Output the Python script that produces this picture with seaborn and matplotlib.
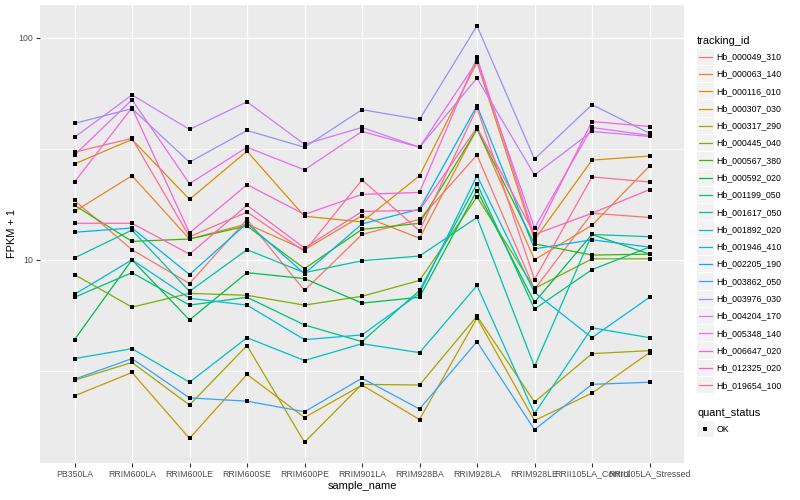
import numpy as np
import pandas as pd
import matplotlib
matplotlib.use("Agg")
import matplotlib.pyplot as plt
import seaborn as sns
from matplotlib.patches import Rectangle

# x categories
samples = ["PB350LA", "RRIM600LA", "RRIM600LE", "RRIM600SE", "RRIM600PE",
           "RRIM901LA", "RRIM928BA", "RRIM928LA", "RRIM928LE",
           "RRII105LA_Control", "RRII105LA_Stressed"]

tracking_ids = ["Hb_000049_310", "Hb_000063_140", "Hb_000116_010", "Hb_000307_030",
                "Hb_000317_290", "Hb_000445_040", "Hb_000567_380", "Hb_000592_020",
                "Hb_001199_050", "Hb_001617_050", "Hb_001892_020", "Hb_001946_410",
                "Hb_002205_190", "Hb_003862_050", "Hb_003976_030", "Hb_004204_170",
                "Hb_005348_140", "Hb_006647_020", "Hb_012325_020", "Hb_019654_100"]

# FPKM + 1 per gene, one value per sample
hb_000049_310 = [18.5, 11.1, 7.82, 15.2, 7.28, 13.0, 15.2, 29.6, 7.36, 16.2, 15.5]
hb_000063_140 = [16.5, 23.9, 12.4, 14.5, 11.1, 15.8, 12.5, 39.0, 10.0, 14.3, 26.4]
hb_000116_010 = [27.0, 34.8, 18.7, 30.8, 15.7, 14.8, 23.9, 77.4, 12.3, 28.1, 29.3]
hb_000307_030 = [2.44, 3.11, 1.57, 3.05, 1.95, 2.73, 1.91, 5.47, 1.89, 2.51, 3.82]
hb_000317_290 = [2.87, 3.45, 2.22, 4.11, 1.51, 2.75, 2.73, 5.58, 2.29, 3.78, 3.90]
hb_000445_040 = [8.58, 6.12, 7.06, 6.92, 6.25, 6.85, 8.07, 19.2, 7.43, 10.1, 10.1]
hb_000567_380 = [17.6, 12.1, 12.4, 14.2, 9.12, 13.7, 14.6, 38.6, 11.8, 10.5, 10.6]
hb_000592_020 = [4.37, 10.0, 5.36, 8.75, 8.23, 6.38, 6.78, 20.5, 6.44, 13.0, 10.6]
hb_001199_050 = [6.78, 8.75, 6.25, 6.78, 5.09, 4.28, 7.28, 22.0, 6.00, 9.03, 11.4]
hb_001617_050 = [10.2, 13.6, 7.21, 11.1, 8.75, 9.90, 10.4, 15.5, 3.31, 13.0, 12.7]
hb_001892_020 = [3.59, 3.98, 2.81, 4.46, 3.52, 4.19, 3.82, 7.66, 2.03, 4.94, 4.46]
hb_001946_410 = [6.99, 10.0, 6.71, 6.25, 4.37, 4.59, 7.06, 23.9, 7.13, 4.46, 6.78]
hb_002205_190 = [13.3, 13.9, 8.58, 14.6, 8.66, 14.5, 16.9, 49.4, 11.2, 12.3, 11.4]
hb_003862_050 = [2.90, 3.59, 2.39, 2.31, 2.07, 2.93, 2.13, 4.28, 1.72, 2.75, 2.81]
hb_003976_030 = [41.1, 47.9, 27.5, 38.2, 32.1, 47.4, 42.8, 113.0, 28.4, 49.9, 37.1]
hb_004204_170 = [35.6, 55.2, 38.6, 51.4, 33.1, 39.4, 32.1, 65.7, 24.1, 37.8, 35.9]
hb_005348_140 = [29.6, 52.5, 22.0, 32.1, 25.4, 37.8, 32.1, 78.2, 13.9, 39.4, 36.3]
hb_006647_020 = [22.4, 48.3, 13.2, 21.8, 16.0, 19.7, 20.1, 81.5, 12.8, 41.9, 39.8]
hb_012325_020 = [14.6, 14.6, 10.6, 17.6, 11.3, 16.5, 16.7, 39.4, 13.0, 16.2, 20.7]
hb_019654_100 = [30.5, 35.2, 12.7, 16.4, 10.9, 22.9, 13.5, 48.3, 8.15, 23.6, 22.4]

series = [hb_000049_310, hb_000063_140, hb_000116_010, hb_000307_030, hb_000317_290,
          hb_000445_040, hb_000567_380, hb_000592_020, hb_001199_050, hb_001617_050,
          hb_001892_020, hb_001946_410, hb_002205_190, hb_003862_050, hb_003976_030,
          hb_004204_170, hb_005348_140, hb_006647_020, hb_012325_020, hb_019654_100]

# ggplot default hue palette for 20 levels
palette = ["#F8766D", "#EA8331", "#D89000", "#C09B00", "#A3A500", "#7CAE00", "#39B600",
           "#00BB4E", "#00BF7D", "#00C1A3", "#00BFC4", "#00BAE0", "#00B0F6", "#35A2FF",
           "#9590FF", "#C77CFF", "#E76BF3", "#FA62DB", "#FF62BC", "#FF6C91"]

rows = []
for tid, vals in zip(tracking_ids, series):
    for s, v in zip(samples, vals):
        rows.append({"tracking_id": tid, "sample_name": s, "fpkm": v})
df = pd.DataFrame(rows)
df["sample_name"] = pd.Categorical(df["sample_name"], categories=samples, ordered=True)
df["xpos"] = df["sample_name"].cat.codes

plt.rcParams["font.family"] = ["Liberation Sans", "DejaVu Sans"]

fig = plt.figure(figsize=(8, 5), dpi=100)
ax = fig.add_axes([0.05, 0.074, 0.805, 0.916])
ax.set_facecolor("#EBEBEB")

sns.lineplot(data=df, x="xpos", y="fpkm", hue="tracking_id", hue_order=tracking_ids,
             palette=palette, estimator=None, sort=False, linewidth=0.9,
             legend=False, ax=ax, zorder=2)
sns.scatterplot(data=df, x="xpos", y="fpkm", color="black", marker="s", s=7,
                linewidth=0, legend=False, ax=ax, zorder=3)

ax.set_yscale("log")
lo, hi = np.log10(df["fpkm"].min()), np.log10(df["fpkm"].max())
pad = (hi - lo) * 0.05
ax.set_ylim(10 ** (lo - pad), 10 ** (hi + pad))
ax.set_xlim(-0.6, len(samples) - 0.4)

ax.set_yticks([10, 100])
ax.set_yticklabels(["10", "100"])
ax.set_yticks([10 ** 0.5, 10 ** 1.5], minor=True)
ax.yaxis.set_minor_formatter(matplotlib.ticker.NullFormatter())
ax.set_xticks(range(len(samples)))
ax.set_xticklabels(samples)

ax.grid(True, which="major", color="white", linewidth=1.0)
ax.grid(True, which="minor", axis="y", color="white", linewidth=0.5)
ax.set_axisbelow(True)
for sp in ax.spines.values():
    sp.set_visible(False)
ax.tick_params(axis="both", which="major", length=2.8, width=0.8, color="#333333",
               labelsize=6.3, labelcolor="#4D4D4D", pad=2)
ax.tick_params(axis="y", which="minor", length=0)

ax.set_xlabel("sample_name", fontsize=7.9, labelpad=2)
ax.set_ylabel("FPKM + 1", fontsize=7.9, labelpad=1)

# legend drawn by hand in pixel coordinates, ggplot style
lg = fig.add_axes([0, 0, 1, 1], facecolor="none")
lg.set_xlim(0, 800)
lg.set_ylim(500, 0)
lg.axis("off")

lg.text(697, 40.5, "tracking_id", fontsize=7.9, ha="left", va="center")
step = 17.29
for i, (tid, col) in enumerate(zip(tracking_ids, palette)):
    cy = 56.7 + i * step
    lg.add_patch(Rectangle((697, cy - step / 2 + 0.5), 16.5, step - 1,
                           facecolor="#F2F2F2", edgecolor="none"))
    lg.plot([698.5, 711.5], [cy, cy], color=col, linewidth=0.9)
    lg.text(716.7, cy, tid, fontsize=6.3, ha="left", va="center")

lg.text(697, 412.7, "quant_status", fontsize=7.9, ha="left", va="center")
lg.add_patch(Rectangle((697, 429.3 - step / 2 + 0.5), 16.5, step - 1,
                       facecolor="#F2F2F2", edgecolor="none"))
lg.scatter([705.2], [429.3], marker="s", s=7, color="black", linewidth=0)
lg.text(716.7, 429.3, "OK", fontsize=6.3, ha="left", va="center")

fig.savefig("out.png", dpi=100)
